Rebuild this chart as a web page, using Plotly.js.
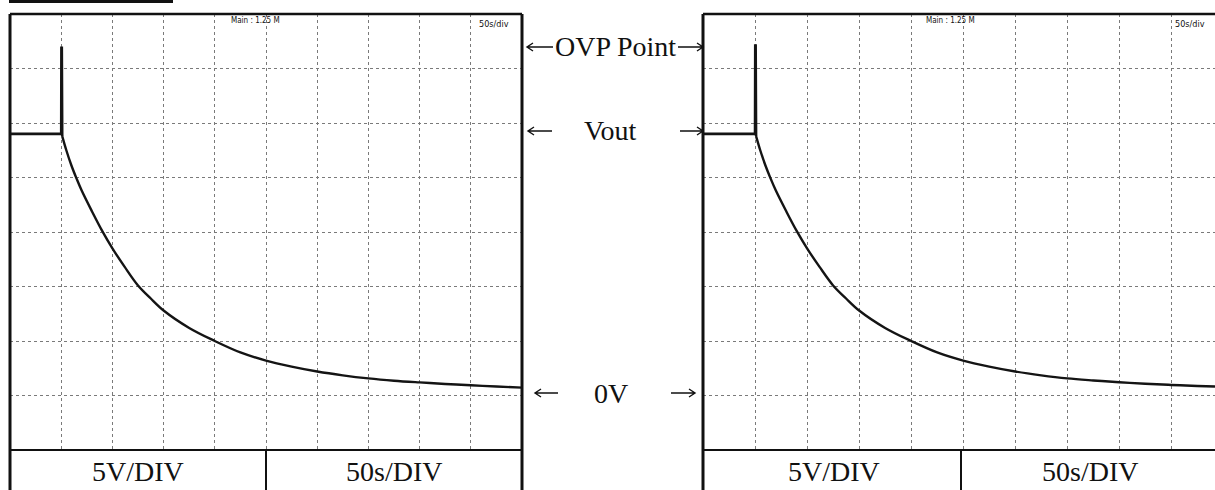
<!DOCTYPE html>
<html>
<head>
<meta charset="utf-8">
<script src="https://cdn.plot.ly/plotly-3.0.1.min.js"></script>
<style>
  html, body { margin: 0; padding: 0; background: #fff; }
  #scope { width: 1215px; height: 490px; }
</style>
</head>
<body>
<div id="scope"></div>
<script>
// Output voltage on the scope (seconds, volts).
// Steady Vout and the OVP spike:
const leftStepTime  = [0, 20, 49, 50, 50.2, 50.6, 51];
const leftStepVolt  = [24.0, 24.0, 24.0, 24.0, 31.9, 31.9, 23.8];
// Discharge towards 0 V after the spike:
const leftDecayTime = [51, 55, 60, 65, 70, 80, 90, 100, 112, 125, 137.5, 150, 175, 200, 225, 250, 275, 300, 325, 350, 375, 400, 425, 450, 475, 500];
const leftDecayVolt = [23.8, 22.5, 21.1, 19.9, 18.8, 16.9, 15.1, 13.5, 11.8, 10.1, 8.9, 7.8, 6.2, 5.0, 3.95, 3.2, 2.65, 2.2, 1.85, 1.57, 1.36, 1.2, 1.06, 0.94, 0.82, 0.72];

const rightStepTime  = [0, 20, 49, 50, 50.2, 50.6, 51];
const rightStepVolt  = [24.0, 24.0, 24.0, 24.0, 32.1, 32.1, 23.8];
const rightDecayTime = [51, 55, 60, 65, 70, 80, 90, 100, 112, 125, 137.5, 150, 175, 200, 225, 250, 275, 300, 325, 350, 375, 400, 425, 450, 475, 492];
const rightDecayVolt = [23.8, 22.5, 21.1, 19.9, 18.8, 16.9, 15.1, 13.5, 11.8, 10.1, 8.9, 7.8, 6.2, 5.0, 3.95, 3.2, 2.65, 2.2, 1.85, 1.57, 1.38, 1.22, 1.08, 0.97, 0.87, 0.82];

// Screen settings and readouts
const voltsPerDiv = 5;
const secsPerDiv = 50;
const timebaseLabel = "Main : 1.25 M";
const sweepLabel = "50s/div";
const scaleLabels = ["5V/DIV", "50s/DIV"];
const markerLabels = ["OVP Point", "Vout", "0V"];

const W = 1215, H = 490;
const px = x => x / W;
const py = y => 1 - y / H;

const gridStyle = {
  showgrid: true, gridcolor: "#7a7a7a", griddash: "dot", gridwidth: 1,
  zeroline: false, showline: false, showticklabels: false, ticks: "",
  fixedrange: true
};

function stepTrace(x, y, xa, ya) {
  return { type: "scatter", mode: "lines", hoverinfo: "skip", x: x, y: y,
    xaxis: xa, yaxis: ya, line: { color: "#141414", width: 2.6 } };
}
function decayTrace(x, y, xa, ya) {
  return { type: "scatter", mode: "lines", hoverinfo: "skip", x: x, y: y,
    xaxis: xa, yaxis: ya, line: { color: "#141414", width: 2.4, shape: "spline", smoothing: 1 } };
}

const data = [
  stepTrace(leftStepTime, leftStepVolt, "x", "y"),
  decayTrace(leftDecayTime, leftDecayVolt, "x", "y"),
  stepTrace(rightStepTime, rightStepVolt, "x2", "y2"),
  decayTrace(rightDecayTime, rightDecayVolt, "x2", "y2")
];

// straight line in pixel coordinates
function seg(x0, y0, x1, y1, w) {
  return { type: "line", xref: "paper", yref: "paper",
    x0: px(x0), y0: py(y0), x1: px(x1), y1: py(y1),
    line: { color: "#111", width: w } };
}
// open-headed arrow: head at (hx, y), tail at (tx, y)
function arrow(tx, hx, y) {
  const d = hx < tx ? 1 : -1;
  const p = (a, b) => px(a) + "," + py(b);
  return { type: "path", xref: "paper", yref: "paper",
    path: "M" + p(tx, y) + " L" + p(hx, y) +
          " M" + p(hx + 6 * d, y - 4) + " L" + p(hx, y) + " L" + p(hx + 6 * d, y + 4),
    line: { color: "#111", width: 1.4 } };
}

const shapes = [
  // strip at the very top
  seg(9, 1.5, 173, 1.5, 3),
  // left screen frame and scale table
  seg(10, 14, 10, 490, 3),
  seg(10, 14, 522, 14, 2.5),
  seg(522, 14, 522, 490, 3),
  seg(10, 450, 522, 450, 2),
  seg(266, 450, 266, 490, 2),
  // right screen frame and scale table
  seg(703, 14, 703, 490, 3),
  seg(703, 14, 1215, 14, 2.5),
  seg(703, 450, 1215, 450, 2),
  seg(961, 450, 961, 490, 2),
  // level markers between the screens
  arrow(553, 527, 47), arrow(678, 703, 47),
  arrow(552, 528, 131), arrow(680, 703, 131),
  arrow(558, 535, 393), arrow(671, 695, 393)
];

const serif = { family: "Liberation Serif, Times New Roman, serif", size: 28, color: "#111" };
const narrow = { family: "DejaVu Sans Condensed, Liberation Sans Narrow, Arial Narrow, sans-serif", size: 8, color: "#111" };

function txt(text, x, y, font, xanchor) {
  return { text: text, xref: "paper", yref: "paper", x: px(x), y: py(y),
    xanchor: xanchor || "center", yanchor: "middle", showarrow: false, font: font };
}

const annotations = [
  txt(markerLabels[0], 615, 46, serif),
  txt(markerLabels[1], 610, 130, serif),
  txt(markerLabels[2], 611, 393, serif),
  txt(scaleLabels[0], 138, 471, serif),
  txt(scaleLabels[1], 394, 471, serif),
  txt(scaleLabels[0], 834, 471, serif),
  txt(scaleLabels[1], 1090, 471, serif),
  txt(timebaseLabel, 229, 20, narrow, "left"),
  txt(sweepLabel, 477, 24, Object.assign({}, narrow, { size: 9 }), "left"),
  txt(timebaseLabel, 924, 20, narrow, "left"),
  txt(sweepLabel, 1173, 24, Object.assign({}, narrow, { size: 9 }), "left")
];

const layout = {
  width: W, height: H,
  margin: { l: 0, r: 0, t: 0, b: 0, pad: 0 },
  paper_bgcolor: "#fff", plot_bgcolor: "#fff",
  showlegend: false,
  xaxis: Object.assign({ domain: [px(10), px(522)], range: [0, 10 * secsPerDiv], dtick: secsPerDiv, anchor: "y" }, gridStyle),
  yaxis: Object.assign({ domain: [py(450), py(14)], range: [-voltsPerDiv, 7 * voltsPerDiv], dtick: voltsPerDiv, anchor: "x" }, gridStyle),
  xaxis2: Object.assign({ domain: [px(703), 1], range: [0, 492], dtick: secsPerDiv, anchor: "y2" }, gridStyle),
  yaxis2: Object.assign({ domain: [py(450), py(14)], range: [-voltsPerDiv, 7 * voltsPerDiv], dtick: voltsPerDiv, anchor: "x2" }, gridStyle),
  shapes: shapes,
  annotations: annotations
};

Plotly.newPlot("scope", data, layout, { staticPlot: true, displayModeBar: false });
</script>
</body>
</html>
